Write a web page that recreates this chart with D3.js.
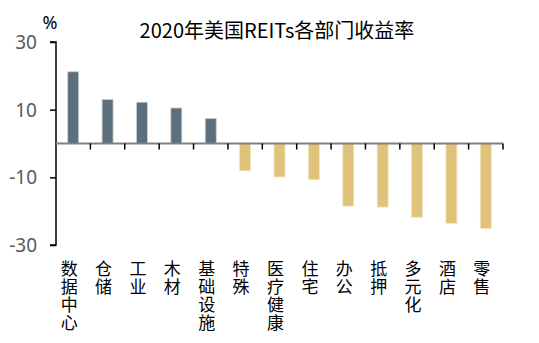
<!DOCTYPE html>
<html><head><meta charset="utf-8">
<script src="https://cdn.jsdelivr.net/npm/d3@7"></script>
<style>
body{margin:0;background:#fff;}
svg{display:block;font-family:"Noto Sans CJK SC","Noto Sans",sans-serif;}
</style></head><body>
<svg id="c" width="539" height="343"></svg>
<script>
const categories = ["数据中心","仓储","工业","木材","基础设施","特殊","医疗健康","住宅","办公","抵押","多元化","酒店","零售"];
const returns = [21.2, 13.0, 12.2, 10.5, 7.4, -8.1, -9.9, -10.7, -18.5, -18.8, -21.8, -23.6, -25.1];
const yTicks = [30, 10, -10, -30];
const title = "2020年美国REITs各部门收益率";
const unit = "%";

const svg = d3.select("#c");
const plotL = 56, plotR = 503, plotT = 42, plotB = 245;

const y = d3.scaleLinear().domain([-30, 30]).range([plotB, plotT]);
const x = d3.scaleBand().domain(categories).range([plotL, plotR]).paddingInner(0.68).paddingOuter(0.34);

// bars
svg.append("g").selectAll("rect").data(categories).join("rect")
  .attr("x", d => x(d))
  .attr("width", x.bandwidth())
  .attr("y", (d, i) => y(Math.max(0, returns[i])))
  .attr("height", (d, i) => Math.abs(y(returns[i]) - y(0)))
  .attr("fill", (d, i) => returns[i] >= 0 ? "#5b6f7d" : "#e0c27a")
  .attr("stroke", (d, i) => returns[i] >= 0 ? "#c9d2d8" : "#f3e6c2")
  .attr("stroke-width", 0.8);

// y axis
const yAxis = svg.append("g").attr("transform", `translate(${plotL},0)`)
  .call(d3.axisLeft(y).tickValues(yTicks).tickSize(6).tickPadding(13).tickFormat(d => String(d)));
yAxis.select(".domain").attr("stroke", "#000").attr("stroke-width", 1.5).attr("d", `M-6,${plotT}H0V${plotB}H-6`);
yAxis.selectAll(".tick line").attr("stroke", "#000").attr("stroke-width", 1.5);
yAxis.selectAll(".tick text").attr("fill", "#595959").style("font-size", "19px")
  .style("font-family", "'Noto Sans','Open Sans',sans-serif").attr("dy", "0.34em");

// zero line + category ticks
const step = x.step();
const tickXs = categories.map((c, i) => plotL + step * (i + 1));
svg.append("line").attr("x1", plotL).attr("x2", plotR).attr("y1", y(0)).attr("y2", y(0))
  .attr("stroke", "#808080").attr("stroke-width", 2);
svg.append("g").selectAll("line").data(tickXs).join("line")
  .attr("x1", d => d).attr("x2", d => d).attr("y1", y(0)).attr("y2", y(0) + 6)
  .attr("stroke", "#000").attr("stroke-width", 1.5);

// category labels (vertical writing)
svg.append("g").selectAll("text").data(categories).join("text")
  .style("writing-mode", "vertical-rl")
  .style("letter-spacing", "1px")
  .attr("text-anchor", "start")
  .attr("fill", "#000")
  .style("font-size", "17px")
  .attr("x", d => x(d) + x.bandwidth() / 2 - 4)
  .attr("y", 260)
  .text(d => d);

// title and unit
svg.append("text").attr("x", 277).attr("y", 38).attr("text-anchor", "middle")
  .style("font-size", "20px").attr("fill", "#000").text(title);
svg.append("text").attr("x", 50).attr("y", 29).attr("text-anchor", "middle")
  .style("font-size", "18px").attr("fill", "#000").style("font-family", "'Noto Sans',sans-serif").text(unit);
</script>
</body></html>
